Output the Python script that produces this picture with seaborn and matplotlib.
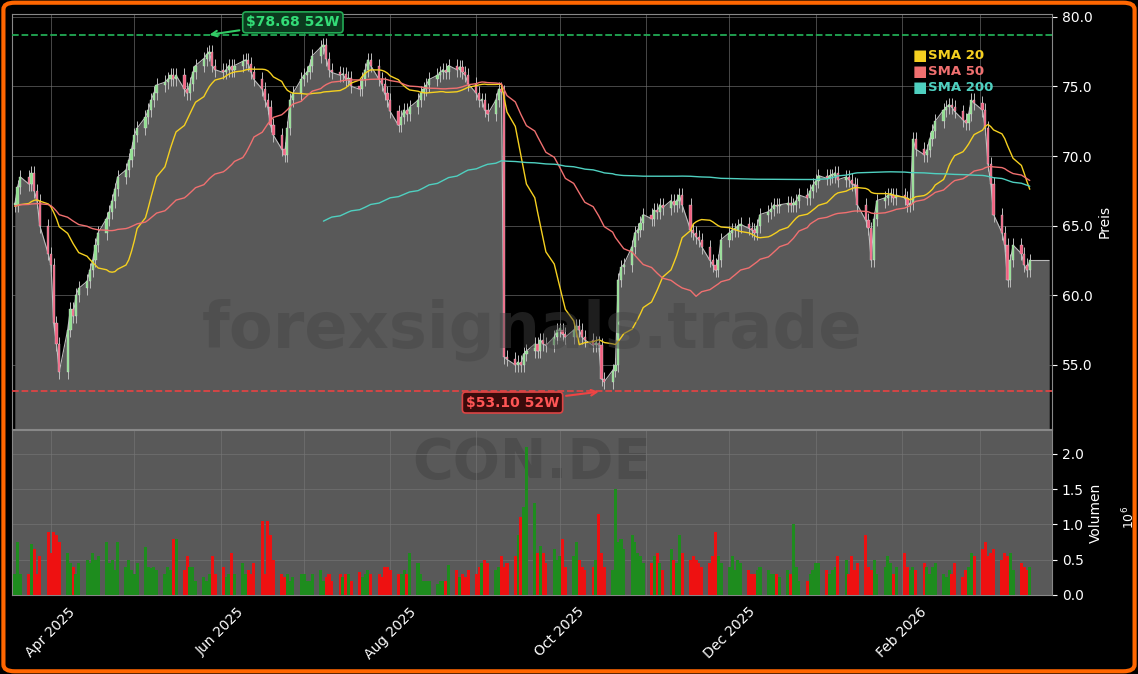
import numpy as np
import pandas as pd
import matplotlib
matplotlib.use("Agg")
import matplotlib.pyplot as plt
import matplotlib.dates as mdates
from matplotlib.patches import FancyBboxPatch
import seaborn as sns

sns.set_style("dark")
plt.rcParams['font.family'] = ['DejaVu Sans']

TICKER = "CON.DE"
WATERMARK = "forexsignals.trade"
START = "2025-03-19"
HIGH_52W = 78.68
LOW_52W = 53.10
HIGH_DATE = "2025-05-27"
LOW_DATE = "2025-10-16"

prehistory = [
    57, 56.5, 57.5, 58, 57.2, 56.8, 57.5, 58.5, 59, 58.2, 57.5, 57, 56.5, 55.8, 56.2,
    55.5, 55, 54.5, 55.2, 55.8, 56.5, 57, 56.2, 55.6, 55, 54.5, 54, 53.5, 54.2, 54.8,
    55.5, 56, 55.2, 54.5, 54, 53.8, 54.5, 55.2, 56, 56.5, 57, 57.8, 58.5, 58, 57.5,
    57.2, 58, 58.8, 59.5, 59, 58.5, 59.2, 60, 60.5, 60.2, 59.8, 60.5, 61.2, 61.8, 61.5,
    64.5, 65, 65.5, 66, 65.8, 65.2, 65.8, 66.5, 67, 66.5, 66, 65.5, 66.2, 66.8, 67.2,
    66.8, 66.2, 65.5, 65.8, 66.4, 66.8, 67.5, 67, 66.5, 66, 65.5, 66, 66.8, 67.2, 66.6,
    66.2, 65.8, 66.5, 67, 67.4, 66.8, 66.2, 65.6, 66, 66.5, 66.2, 66.8, 67.2, 66.5, 66,
    65.6, 66.2, 66.8, 67, 66.5, 66, 65.5, 66.2, 66.8, 66.4, 66, 66.5, 66.8, 66.2, 66.5,
]

close = [
    66.5, 67.8, 68.5, 68.0, 68.8, 67.5, 66.8, 65.0, 63.0, 62.2, 58.0, 56.5, 54.5, 57.5, 59.0,
    58.5, 60.0, 60.5, 61.0, 61.8, 62.5, 63.6, 64.5, 65.5, 66.0, 66.8, 67.6, 68.5, 69.0, 69.7,
    70.5, 71.5, 72.0, 72.8, 73.3, 74.0, 74.5, 75.1, 75.3, 75.5, 75.8, 75.5, 75.8, 74.8, 74.5,
    75.2, 76.0, 76.5, 77.0, 77.3, 77.5, 76.5, 76.2, 76.0, 76.2, 76.5, 76.2, 76.5, 76.8, 76.9,
    76.6, 76.0, 75.5, 74.8, 74.0, 73.5, 72.2, 71.5, 70.5, 70.1, 72.0, 74.0, 74.5, 75.5, 75.8,
    76.0, 76.5, 77.2, 77.8, 78.0, 77.0, 76.2, 76.0, 75.8, 75.9, 75.5, 75.6, 75.0, 74.8, 75.5,
    76.2, 76.9, 76.5, 75.5, 75.2, 74.5, 74.0, 73.2, 72.2, 72.8, 73.3, 73.0, 73.5, 74.0, 74.5,
    74.8, 75.1, 75.5, 75.8, 76.0, 76.2, 76.0, 76.5, 76.2, 76.4, 76.0, 75.8, 75.2, 74.5, 74.0,
    74.0, 73.3, 73.0, 74.0, 74.8, 74.6, 55.6, 55.4, 55.0, 55.2, 55.0, 55.8, 56.0, 56.5, 56.0,
    56.8, 56.5, 56.4, 57.0, 57.5, 57.5, 57.2, 57.0, 57.5, 57.8, 57.5, 57.0, 56.8, 56.4, 56.6,
    56.4, 54.0, 53.8, 54.6, 55.0, 61.1, 62.0, 62.2, 63.5, 64.5, 64.7, 65.2, 65.8, 65.5, 66.1,
    66.0, 66.5, 66.3, 66.8, 66.5, 66.8, 67.2, 66.5, 64.7, 64.5, 64.2, 64.0, 63.5, 62.5, 62.2,
    61.8, 62.5, 64.0, 64.5, 64.7, 64.7, 65.0, 65.1, 64.8, 64.7, 64.5, 65.0, 65.8, 66.0, 66.2,
    66.5, 66.4, 66.5, 66.6, 66.5, 66.5, 66.8, 67.2, 67.0, 67.5, 67.9, 68.2, 68.6, 68.4, 68.6,
    68.6, 68.8, 68.3, 68.5, 68.3, 68.0, 67.9, 66.5, 65.4, 64.8, 62.5, 65.5, 66.8, 67.0, 67.2,
    67.2, 67.0, 67.2, 67.0, 66.5, 66.6, 71.2, 70.5, 70.1, 70.4, 71.2, 71.8, 72.5, 73.3, 73.5,
    73.7, 73.5, 73.2, 72.6, 72.4, 73.0, 74.0, 73.8, 73.3, 72.0, 69.4, 68.0, 65.8, 64.5, 63.6,
    61.1, 62.5, 63.6, 63.0, 62.2, 61.8, 62.5,
]

volume_m = [
    0.3, 0.75, 0.3, 0.3, 0.72, 0.65, 0.3, 0.55, 0.9, 0.6, 0.9, 0.85, 0.75, 0.6, 0.45,
    0.4, 0.3, 0.45, 0.5, 0.45, 0.6, 0.5, 0.55, 0.75, 0.45, 0.5, 0.35, 0.75, 0.4, 0.5,
    0.35, 0.3, 0.45, 0.68, 0.4, 0.38, 0.4, 0.35, 0.3, 0.4, 0.35, 0.8, 0.8, 0.35, 0.55,
    0.4, 0.4, 0.2, 0.25, 0.2, 0.3, 0.55, 0.3, 0.4, 0.25, 0.3, 0.6, 0.3, 0.45, 0.3,
    0.35, 0.3, 0.45, 1.05, 0.3, 1.05, 0.85, 0.5, 0.3, 0.25, 0.3, 0.2, 0.25, 0.3, 0.3,
    0.2, 0.2, 0.3, 0.35, 0.2, 0.25, 0.3, 0.2, 0.3, 0.25, 0.3, 0.3, 0.2, 0.32, 0.25,
    0.3, 0.35, 0.3, 0.3, 0.25, 0.4, 0.4, 0.35, 0.3, 0.3, 0.35, 0.3, 0.6, 0.45, 0.3,
    0.2, 0.2, 0.2, 0.15, 0.2, 0.2, 0.2, 0.42, 0.35, 0.25, 0.3, 0.25, 0.35, 0.3, 0.4,
    0.45, 0.5, 0.45, 0.35, 0.4, 0.55, 0.4, 0.45, 0.55, 0.85, 1.1, 1.25, 2.1, 1.3, 0.6,
    0.7, 0.6, 0.45, 0.65, 0.5, 0.55, 0.8, 0.4, 0.55, 0.75, 0.5, 0.4, 0.35, 0.4, 0.5,
    1.15, 0.6, 0.4, 0.35, 1.5, 0.75, 0.8, 0.65, 0.85, 0.75, 0.6, 0.55, 0.45, 0.45, 0.55,
    0.6, 0.45, 0.35, 0.65, 0.5, 0.45, 0.85, 0.6, 0.5, 0.55, 0.5, 0.45, 0.4, 0.45, 0.55,
    0.9, 0.55, 0.45, 0.4, 0.55, 0.35, 0.5, 0.45, 0.35, 0.3, 0.3, 0.35, 0.4, 0.35, 0.3,
    0.3, 0.3, 0.25, 0.35, 0.3, 1.0, 0.4, 0.2, 0.2, 0.3, 0.35, 0.45, 0.45, 0.35, 0.3,
    0.35, 0.4, 0.55, 0.5, 0.3, 0.55, 0.35, 0.45, 0.85, 0.4, 0.35, 0.5, 0.3, 0.4, 0.55,
    0.45, 0.3, 0.4, 0.6, 0.4, 0.35, 0.4, 0.35, 0.45, 0.4, 0.3, 0.4, 0.45, 0.3, 0.25,
    0.35, 0.3, 0.45, 0.25, 0.35, 0.4, 0.6, 0.55, 0.65, 0.75, 0.55, 0.6, 0.65, 0.5, 0.6,
    0.55, 0.6, 0.35, 0.45, 0.4, 0.35, 0.4,
]

n = min(len(close), len(volume_m))
close = close[:n]
volume_m = volume_m[:n]
dates = pd.bdate_range(START, periods=n)
pre_dates = pd.bdate_range(end=dates[0] - pd.Timedelta(days=1), periods=len(prehistory))
full = pd.Series(prehistory + close, index=pre_dates.append(dates))
sma20 = full.rolling(20).mean()[dates]
sma50 = full.rolling(50).mean()[dates]
sma200 = full.rolling(200).mean()[dates]

c = np.array(close)
o = np.concatenate([[prehistory[-1]], c[:-1]])
hi = np.maximum(o, c) + 0.5
lo = np.minimum(o, c) - 0.5
up = c >= o

BG = "#000000"
PANEL = "#595959"
fig = plt.figure(figsize=(11.38, 6.74), dpi=100, facecolor=BG)
ax = fig.add_axes([12/1138, 1-429/674, 1040/1138, 415/674])
axv = fig.add_axes([12/1138, 1-595/674, 1040/1138, 165/674], sharex=ax)
for a in (ax, axv):
    for s in a.spines.values():
        s.set_color("#888888")
    a.tick_params(colors="white", labelsize=10, left=False, labelleft=False,
                  right=True, labelright=True)
    a.grid(True, color="#777777", lw=0.6, alpha=0.7)
ax.set_facecolor(BG)
axv.set_facecolor(PANEL)

YMIN, YMAX = 50.4, 80.2
ax.set_ylim(YMIN, YMAX)
xd = mdates.date2num(dates)
fill_x = np.append(xd, xd[-1] + 7)
fill_y = np.append(c, c[-1])
ax.fill_between(fill_x, fill_y, YMIN, color=PANEL, lw=0, zorder=1)
ax.plot(fill_x, fill_y, color="#bbbbbb", lw=0.8, zorder=2)

ax.vlines(xd, lo, hi, color="#bdbdbd", lw=0.7, zorder=3)
body_bottom = np.minimum(o, c)
body_h = np.maximum(np.abs(c - o), 0.12)
ax.bar(xd, body_h, bottom=body_bottom, width=0.8,
       color=np.where(up, "#8fe08f", "#f0607f"), edgecolor="#dddddd", lw=0.25, zorder=4)

ax.plot(xd, sma20.values, color="#f5d020", lw=1.0, zorder=5)
ax.plot(xd, sma50.values, color="#f07070", lw=1.0, zorder=5)
ax.plot(xd, sma200.values, color="#4fd0c0", lw=1.0, zorder=5)

ax.axhline(HIGH_52W, color="#22aa55", ls="--", lw=1.3, zorder=6)
ax.axhline(LOW_52W, color="#dd4444", ls="--", lw=1.3, zorder=6)

hd = mdates.date2num(pd.Timestamp(HIGH_DATE))
ld = mdates.date2num(pd.Timestamp(LOW_DATE))
ax.annotate(f"${HIGH_52W:.2f} 52W", xy=(hd, HIGH_52W), xytext=(hd + 31, 79.6),
            color="#33dd77", fontsize=10, fontweight="bold", ha="center", va="center",
            bbox=dict(boxstyle="round,pad=0.25", fc="#0b3a1e", ec="#22aa55", lw=1.2),
            arrowprops=dict(arrowstyle="->", color="#33cc66", lw=1.5), zorder=8)
ax.annotate(f"${LOW_52W:.2f} 52W", xy=(ld, LOW_52W), xytext=(ld - 32, 52.3),
            color="#ff5555", fontsize=10, fontweight="bold", ha="center", va="center",
            bbox=dict(boxstyle="round,pad=0.25", fc="#3a0b0b", ec="#dd4444", lw=1.2),
            arrowprops=dict(arrowstyle="->", color="#ee4444", lw=1.5), zorder=8)

ax.text(0.5, 0.24, WATERMARK, transform=ax.transAxes, fontsize=46, fontweight="bold",
        color="#444444", alpha=0.45, ha="center", va="center", zorder=7)
axv.text(0.5, 0.8, TICKER, transform=axv.transAxes, fontsize=40, fontweight="bold",
         color="#4a4a4a", alpha=0.8, ha="center", va="center", zorder=0)

labels = ["SMA 20", "SMA 50", "SMA 200"]
cols = ["#f5d020", "#f07070", "#4fd0c0"]
for i, (lab, col) in enumerate(zip(labels, cols)):
    y = 0.9 - i * 0.039
    ax.text(0.866, y, "■", transform=ax.transAxes, color=col, fontsize=11, va="center", zorder=9)
    ax.text(0.881, y, lab, transform=ax.transAxes, color=col, fontsize=9.5,
            fontweight="bold", va="center", zorder=9)

ax.set_yticks([55, 60, 65, 70, 75, 80])
ax.yaxis.set_major_formatter(matplotlib.ticker.FormatStrFormatter("%.1f"))
ax.yaxis.set_label_position("right")
ax.set_ylabel("Preis", color="white", fontsize=10)
plt.setp(ax.get_xticklabels(), visible=False)

vol = np.array(volume_m) * 1e6
axv.bar(xd, vol, width=1.1, color=np.where(up, "#1e8c1e", "#ee1111"), lw=0, zorder=3)
axv.set_ylim(0, 2.34e6)
axv.set_yticks([0, 0.5e6, 1e6, 1.5e6, 2e6])
axv.yaxis.set_major_formatter(matplotlib.ticker.FuncFormatter(lambda v, p: f"{v/1e6:.1f}"))
axv.text(1.066, 0.47, r"$10^6$", transform=axv.transAxes, color="white", fontsize=9,
         rotation=90, va="center", ha="left")
axv.yaxis.set_label_position("right")
axv.set_ylabel("Volumen", color="white", fontsize=10)

ax.set_xlim(mdates.date2num(pd.Timestamp("2025-03-18")), mdates.date2num(pd.Timestamp("2026-03-27")))
axv.xaxis.set_major_locator(mdates.MonthLocator(bymonth=[2, 4, 6, 8, 10, 12]))
axv.xaxis.set_minor_locator(mdates.MonthLocator())
axv.xaxis.set_major_formatter(mdates.DateFormatter("%b %Y"))
for a in (ax, axv):
    a.grid(True, which="minor", axis="x", color="#777777", lw=0.6, alpha=0.7)
axv.tick_params(which="minor", bottom=False)
plt.setp(axv.get_xticklabels(), rotation=45, ha="center", color="white")

border = FancyBboxPatch((0.003, 0.004), 0.994, 0.992, boxstyle="round,pad=0,rounding_size=0.01",
                        transform=fig.transFigure, fill=False, ec="#ff6600", lw=3)
fig.patches.append(border)
fig.savefig("out.png", dpi=100, facecolor=BG)
